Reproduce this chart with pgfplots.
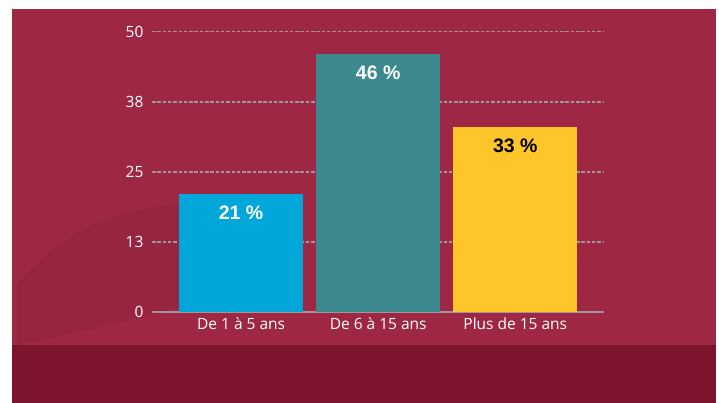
\documentclass[border=0pt]{standalone}
\usepackage{fontspec}
\setmainfont{Open Sans}
\newfontfamily\barfont{Liberation Sans}
\usepackage{pgfplots}
\pgfplotsset{compat=1.18}
\definecolor{crimson}{RGB}{158,40,67}
\definecolor{darkband}{RGB}{125,20,46}
\definecolor{swoosh}{RGB}{151,37,63}
\definecolor{cblue}{RGB}{0,167,216}
\definecolor{cteal}{RGB}{61,138,142}
\definecolor{cyellow}{RGB}{255,198,43}
\definecolor{gridgray}{RGB}{160,150,155}
\begin{document}
\begin{tikzpicture}
\useasboundingbox (0pt,0pt) rectangle (719pt,403pt);
\fill[white] (0pt,0pt) rectangle (719pt,403pt);
\fill[crimson] (12pt,0pt) rectangle (716pt,394pt);
% subtle swoosh
\fill[swoosh] (17pt,118pt) .. controls (50pt,160pt) and (100pt,192pt) .. (180pt,200pt) -- (180pt,96pt) .. controls (120pt,80pt) and (60pt,66pt) .. (30pt,60pt) -- (17pt,58pt) -- cycle;
\fill[darkband] (12pt,0pt) rectangle (716pt,58pt);
\begin{axis}[
  at={(152pt,90.7pt)}, anchor=south west,
  scale only axis,
  width=451pt, height=280.6pt,
  xmin=-0.65, xmax=2.64,
  ymin=0, ymax=50,
  clip=false,
  axis line style={draw=none},
  major tick length=0pt,
  xtick={0,1,2},
  xticklabels={De 1 à 5 ans, De 6 à 15 ans, Plus de 15 ans},
  ytick={0,12.5,25,37.5,50},
  yticklabels={0,13,25,38,50},
  ymajorgrids,
  grid style={gridgray, dash pattern=on 3.5pt off 1.8pt, line width=1.6pt},
  extra y ticks={0},
  extra y tick labels={},
  extra y tick style={grid style={solid, gridgray, line width=1.6pt}},
  ticklabel style={font=\fontsize{15.5}{17}\selectfont, text=white},
  yticklabel style={xshift=-5pt},
  xticklabel style={yshift=-2pt},
  /pgf/number format/assume math mode=true,
  ybar, bar width=0.905, bar shift=0pt,
  nodes near coords={\pgfmathprintnumber{\pgfplotspointmeta}~\%},
  every node near coord/.append style={anchor=north, yshift=-8pt, font=\barfont\bfseries\fontsize{19.5}{21}\selectfont},
]
\addplot[fill=cblue, draw=none, nodes near coords style={text=white}] coordinates {(0,21)};
\addplot[fill=cteal, draw=none, nodes near coords style={text=white}] coordinates {(1,46)};
\addplot[fill=cyellow, draw=none, nodes near coords style={text=black}] coordinates {(2,33)};
\end{axis}
\end{tikzpicture}
\end{document}
